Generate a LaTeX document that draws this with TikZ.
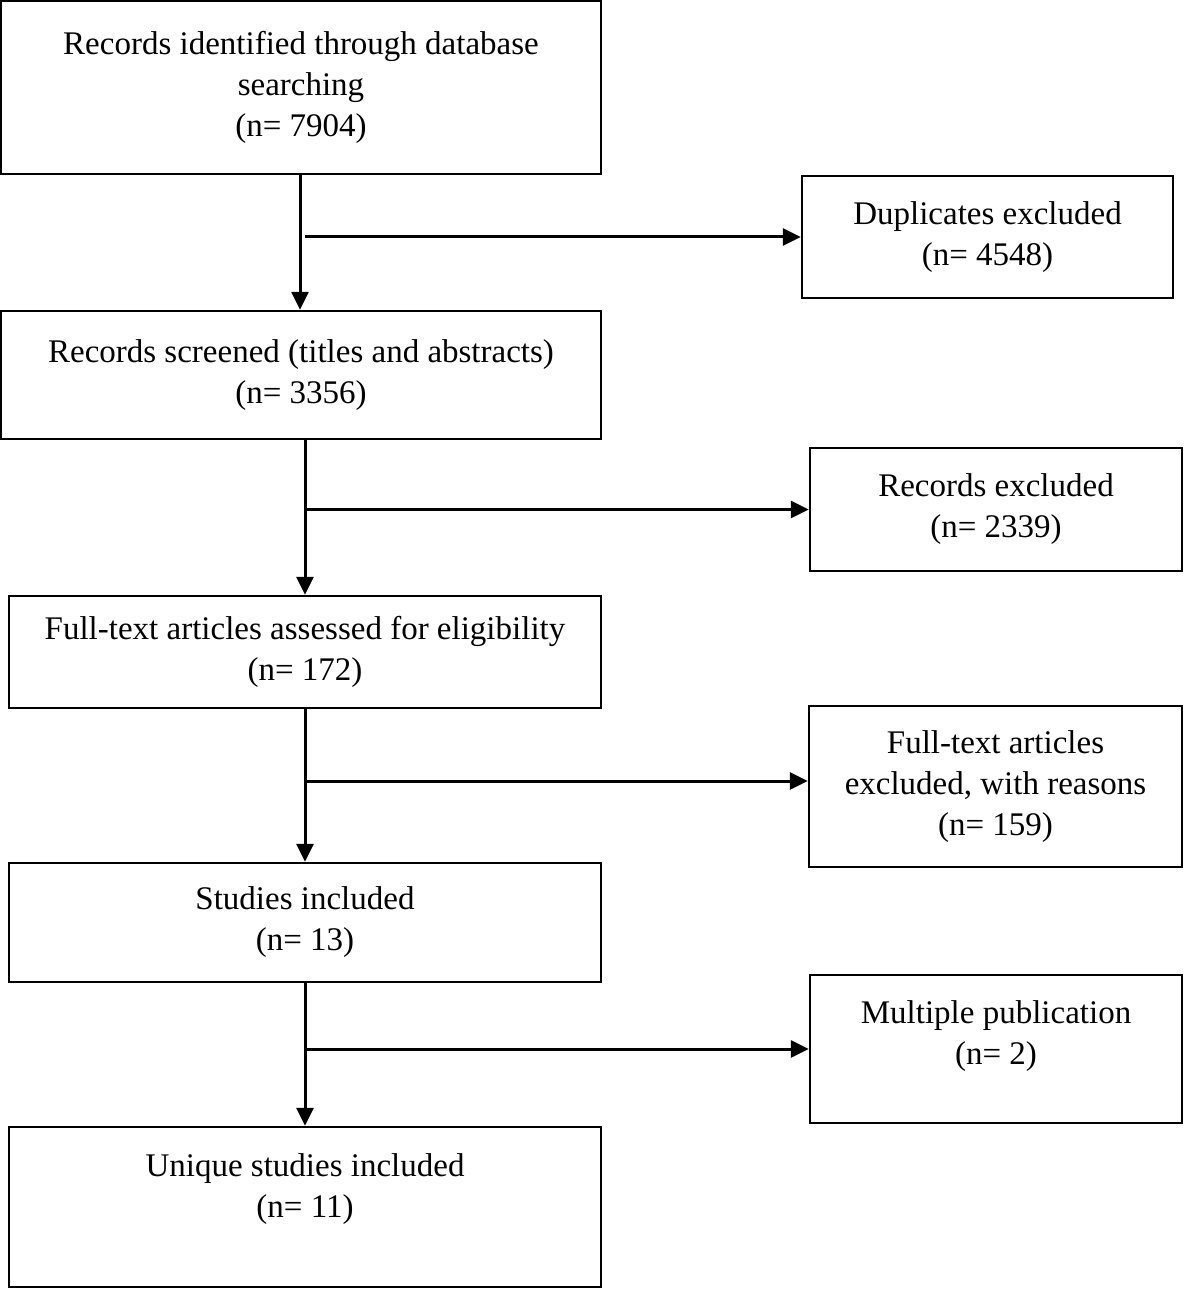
\documentclass[tikz,border=0pt]{standalone}
\usepackage{fontspec}
\setmainfont{Liberation Serif}
\usetikzlibrary{arrows.meta}
\begin{document}
\begin{tikzpicture}[x=1pt,y=-1pt,
  box/.style={draw=black, line width=2.5pt, align=center, inner sep=0pt,
    font=\fontsize{33}{41}\selectfont},
  txt/.style={align=center, inner sep=0pt, font=\fontsize{33}{41}\selectfont},
  arr/.style={line width=3pt, -{Triangle[length=18pt,width=17pt]}}]
\useasboundingbox (0,0) rectangle (1183,1289);
% left column
\node[box, minimum width=600, minimum height=173] (b1) at (301,87.5)
  {Records identified through database\\searching\\(n= 7904)};
\node[box, minimum width=600, minimum height=128] (b2) at (301,375)
  {Records screened (titles and abstracts)\\(n= 3356)};
\node[box, minimum width=592, minimum height=112] (b3) at (305,652)
  {Full-text articles assessed for eligibility\\(n= 172)};
\node[box, minimum width=592, minimum height=119] (b4) at (305,922.5)
  {Studies included\\(n= 13)};
\node[box, minimum width=592, minimum height=160] (b5) at (305,1207) {};
\node[txt] (t5) at (305,1189) {Unique studies included\\(n= 11)};
% right column
\node[box, minimum width=371, minimum height=122] (d1) at (987.5,237)
  {Duplicates excluded\\(n= 4548)};
\node[box, minimum width=372, minimum height=123] (d2) at (996,509.5)
  {Records excluded\\(n= 2339)};
\node[box, minimum width=373, minimum height=161] (d3) at (995.5,786.5)
  {Full-text articles\\excluded, with reasons\\(n= 159)};
\node[box, minimum width=372, minimum height=148] (d4) at (996,1049) {};
\node[txt] (t4) at (996,1036) {Multiple publication\\(n= 2)};
% spine coordinates
\coordinate (v1) at (300,0);
\coordinate (v2) at (305,0);
\coordinate (h3) at (0,781);
% connectors
\draw[arr] (b1.south -| v1) -- (b2.north -| v1);
\draw[arr] (v2 |- d1.west) -- (d1.west);
\draw[arr] (b2.south -| v2) -- (b3.north -| v2);
\draw[arr] (v2 |- d2.west) -- (d2.west);
\draw[arr] (b3.south -| v2) -- (b4.north -| v2);
\draw[arr] (v2 |- h3) -- (d3.west |- h3);
\draw[arr] (b4.south -| v2) -- (b5.north -| v2);
\draw[arr] (v2 |- d4.west) -- (d4.west);
\end{tikzpicture}
\end{document}
